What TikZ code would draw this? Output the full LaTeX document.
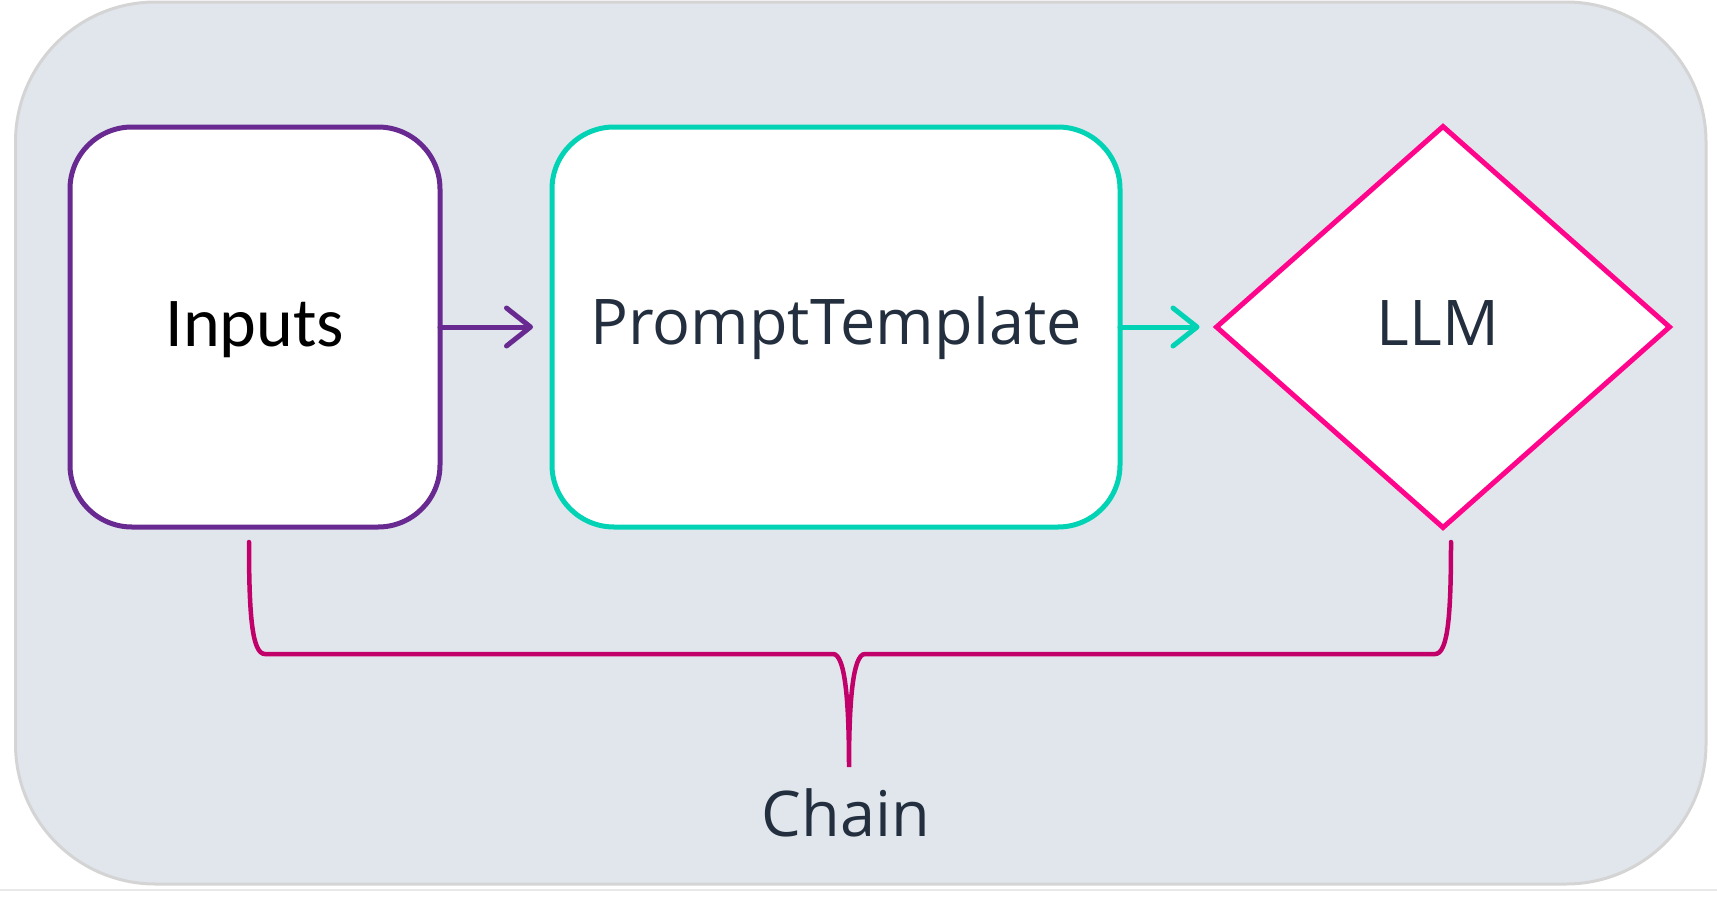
\documentclass[tikz,border=0pt]{standalone}
\usepackage{fontspec}
\setmainfont{Open Sans}
\newfontfamily\inputsfont{Carlito}
\usetikzlibrary{shapes.geometric,arrows.meta}
\definecolor{bgfill}{HTML}{E1E6ED}
\definecolor{bgline}{HTML}{D4D4D4}
\definecolor{purp}{HTML}{682A90}
\definecolor{teal}{HTML}{01D3B4}
\definecolor{pink}{HTML}{FF058C}
\definecolor{brace}{HTML}{C2006A}
\definecolor{ink}{HTML}{232F3E}
\definecolor{faint}{HTML}{E9E9E9}
\tikzset{
  box/.style={draw, fill=white, line width=5pt, rounded corners=62pt, inner sep=0pt, outer sep=0pt, minimum height=400pt},
  dia/.style={draw, fill=white, line width=5pt, diamond, inner sep=0pt, outer sep=0pt, minimum width=453pt, minimum height=401pt},
  lbl/.style={font=\fontsize{63}{75}\selectfont, text=ink},
  arr/.style={line width=5pt, line cap=round, -{Straight Barb[length=24pt, width=38pt, line cap=round, round]}},
}
\begin{document}
\begin{tikzpicture}[x=1pt,y=-1pt]
\useasboundingbox (0,0) rectangle (1717,897);
\draw[faint, line width=2pt] (0,890) -- (1717,890);
\draw[bgline, fill=bgfill, line width=3pt, rounded corners=140pt] (15.5,2) rectangle (1706,884);
\node[box, draw=purp, minimum width=370pt] (inp) at (255,327) {};
\node[font=\inputsfont\fontsize{70}{84}\selectfont, text=black] (inpt) at (255,330) {Inputs};
\node[box, draw=teal, minimum width=568pt] (pt) at (836,327) {};
\node[lbl] (ptt) at (836,328) {PromptTemplate};
\node[dia, draw=pink] (llm) at (1443,327) {};
\node[lbl] (llmt) at (1438,323) {LLM};
\draw[arr, purp, shorten >=19pt] (inp.east) -- (pt.west);
\draw[arr, teal, shorten >=17pt] (pt.east) -- (llm.west);
\coordinate (bl) at (249,542);
\coordinate (br) at (1451,542);
\coordinate (bt) at (849,767);
\draw[brace, line width=4.5pt, line cap=round]
  (bl) .. controls (249,615) and (252,654) .. (265,654) -- (833,654)
  .. controls (845,654) and (849,700) .. (bt)
  .. controls (849,700) and (853,654) .. (865,654) -- (1435,654)
  .. controls (1448,654) and (1451,615) .. (br);
\node[lbl] (chain) at (846,813) {Chain};
\end{tikzpicture}
\end{document}
